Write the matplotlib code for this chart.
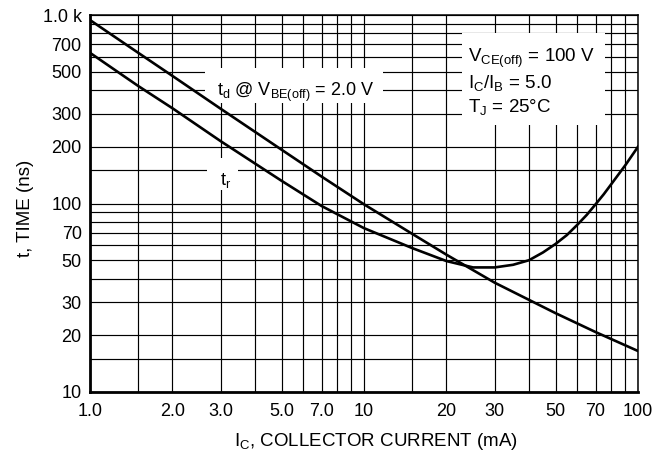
import matplotlib
matplotlib.use("Agg")
import matplotlib.pyplot as plt
from matplotlib.patches import Rectangle
from matplotlib.ticker import FixedLocator, NullFormatter, FixedFormatter

plt.rcParams['font.family'] = ['Liberation Sans', 'DejaVu Sans']
plt.rcParams['mathtext.fontset'] = 'custom'
plt.rcParams['mathtext.rm'] = 'Liberation Sans'
plt.rcParams['mathtext.it'] = 'Liberation Sans'

# delay time t_d vs collector current
ic_td = [1, 1.5, 2, 3, 5, 7, 10, 15, 20, 30, 50, 70, 100]
td = [940, 630, 475, 318, 193, 139, 99, 69, 53.5, 38, 26.2, 20.8, 16.5]

# rise time t_r vs collector current
ic_tr = [1, 1.5, 2, 3, 5, 7, 10, 15, 20, 25, 30, 35, 40, 45, 50, 55, 60, 65, 70, 75, 80, 90, 100]
tr = [630, 420, 320, 214, 132, 97, 74, 58, 49.5, 45.8, 45.8, 47.3, 50, 55, 61, 68, 77, 87, 99, 112, 127, 160, 200]

# ticks / grid
x_major = [1, 2, 3, 5, 7, 10, 20, 30, 50, 70, 100]
x_labels = ['1.0', '2.0', '3.0', '5.0', '7.0', '10', '20', '30', '50', '70', '100']
x_grid = [1.5, 4, 6, 8, 9, 15, 40, 60, 80, 90]
y_major = [10, 20, 30, 50, 70, 100, 200, 300, 500, 700, 1000]
y_labels = ['10', '20', '30', '50', '70', '100', '200', '300', '500', '700', '1.0 k']
y_grid = [15, 40, 60, 80, 90, 150, 400, 600, 800, 900]

fig = plt.figure(figsize=(6.71, 4.63), dpi=100)
ax = fig.add_axes([90 / 671, 1 - 392 / 463, 548 / 671, 377 / 463])
ax.set_xscale('log')
ax.set_yscale('log')
ax.set_xlim(1, 100)
ax.set_ylim(10, 1000)

ax.xaxis.set_major_locator(FixedLocator(x_major))
ax.xaxis.set_major_formatter(FixedFormatter(x_labels))
ax.xaxis.set_minor_locator(FixedLocator(x_grid))
ax.xaxis.set_minor_formatter(NullFormatter())
ax.yaxis.set_major_locator(FixedLocator(y_major))
ax.yaxis.set_major_formatter(FixedFormatter(y_labels))
ax.yaxis.set_minor_locator(FixedLocator(y_grid))
ax.yaxis.set_minor_formatter(NullFormatter())

ax.tick_params(which='both', length=0, labelsize=13)
ax.tick_params(axis='x', pad=8)
ax.tick_params(axis='y', pad=6)
ax.set_axisbelow(True)
ax.grid(True, which='both', color='black', linewidth=0.85)

for s in ['left', 'bottom']:
    ax.spines[s].set_linewidth(2.0)
for s in ['top', 'right']:
    ax.spines[s].set_linewidth(1.1)

# white boxes behind the labels
for (x0, x1, y0, y1) in [(205, 383, 68, 103), (462, 605, 33, 125), (207, 238, 158, 190)]:
    ax.add_patch(Rectangle(((x0 - 90) / 548, (392 - y1) / 377), (x1 - x0) / 548, (y1 - y0) / 377,
                           transform=ax.transAxes, facecolor='white', edgecolor='none', zorder=2))

ax.plot(ic_td, td, color='black', linewidth=1.9, zorder=4)
ax.plot(ic_tr, tr, color='black', linewidth=1.9, zorder=4)

ax.text(0.232, 0.785, r'$\mathregular{t_d}$ @ $\mathregular{V_{BE(off)}}$ = 2.0 V',
        transform=ax.transAxes, fontsize=13, va='baseline', ha='left', zorder=5)
ax.text(0.237, 0.549, r'$\mathregular{t_r}$', transform=ax.transAxes, fontsize=13,
        va='baseline', ha='left', zorder=5)
ax.text(0.69, 0.875, r'$\mathregular{V_{CE(off)}}$ = 100 V', transform=ax.transAxes,
        fontsize=13.5, va='baseline', ha='left', zorder=5)
ax.text(0.69, 0.806, r'$\mathregular{I_C/I_B}$ = 5.0', transform=ax.transAxes,
        fontsize=13.5, va='baseline', ha='left', zorder=5)
ax.text(0.69, 0.743, r'$\mathregular{T_J}$ = 25°C', transform=ax.transAxes,
        fontsize=13.5, va='baseline', ha='left', zorder=5)

ax.set_xlabel(r'$\mathregular{I_C}$, COLLECTOR CURRENT (mA)', fontsize=13.5)
ax.xaxis.set_label_coords((376 - 90) / 548, -(442 - 392) / 377)
ax.xaxis.label.set_va('center')
ax.set_ylabel('t, TIME (ns)', fontsize=13.5)
ax.yaxis.set_label_coords((25 - 90) / 548, (392 - 208) / 377)
ax.yaxis.label.set_va('center')

fig.savefig('out.png', dpi=100)
